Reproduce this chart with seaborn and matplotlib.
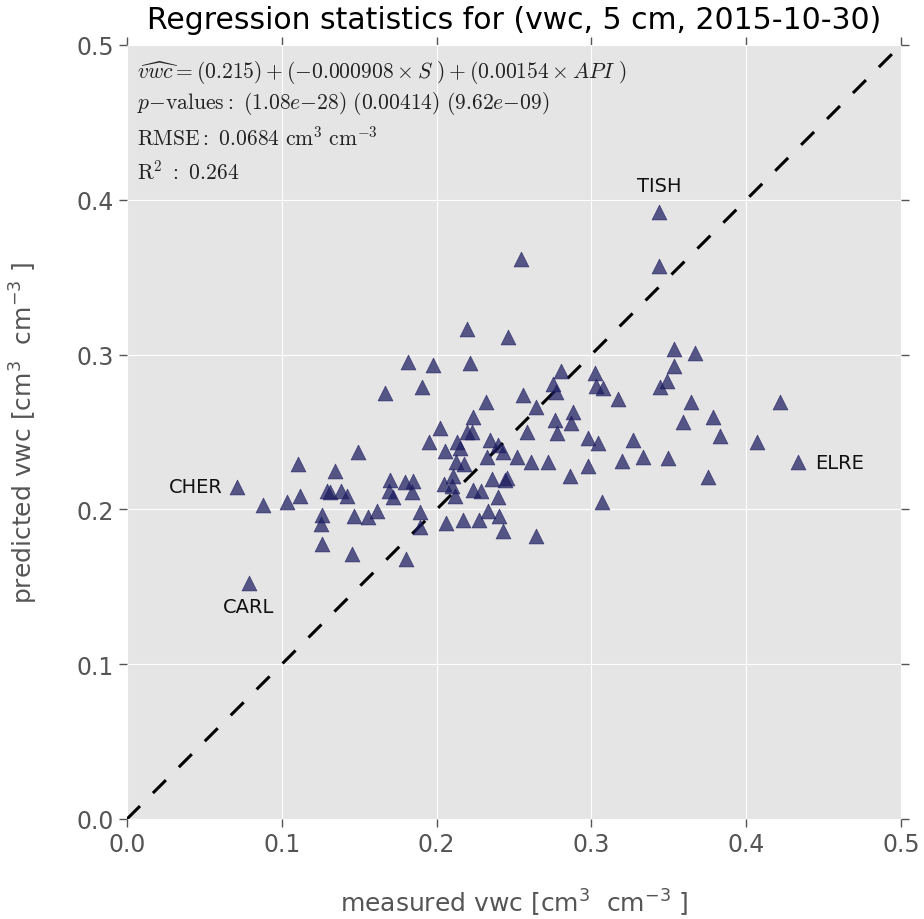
import numpy as np
import pandas as pd
import matplotlib
matplotlib.use("Agg")
import matplotlib.pyplot as plt
import seaborn as sns

# ---- data ----
measured = [0.3437, 0.3437, 0.2545, 0.2196, 0.2461, 0.1815, 0.1977, 0.2216, 0.1906, 0.1667,
            0.2319, 0.2804, 0.3023, 0.2752, 0.2771, 0.3030, 0.3075, 0.3172, 0.2558, 0.3534,
            0.3669, 0.3534, 0.3488, 0.3443, 0.3643, 0.4218, 0.3786, 0.3592, 0.3831, 0.4070,
            0.2642, 0.2881, 0.2765, 0.2868, 0.2584, 0.2778, 0.2978, 0.3043, 0.3269, 0.2235,
            0.2022, 0.1951, 0.2196, 0.2229, 0.2132, 0.2151, 0.2345, 0.2397, 0.2429, 0.2054,
            0.2326, 0.2125, 0.2177, 0.2519, 0.2610, 0.2720, 0.2978, 0.3198, 0.3333, 0.3495,
            0.4335, 0.2862, 0.3753, 0.2106, 0.2048, 0.2100, 0.2119, 0.2358, 0.2455, 0.2235,
            0.2287, 0.2397, 0.3068, 0.2332, 0.2061, 0.2171, 0.2274, 0.2403, 0.2429, 0.2642,
            0.1699, 0.1796, 0.1848, 0.1693, 0.1718, 0.1841, 0.1615, 0.1557, 0.1893, 0.1893,
            0.1802, 0.1492, 0.1105, 0.1344, 0.1292, 0.1311, 0.1382, 0.1421, 0.0711, 0.1118,
            0.0879, 0.1034, 0.1260, 0.1253, 0.1260, 0.1466, 0.1453, 0.0788, 0.2442]
predicted = [0.3921, 0.3572, 0.3618, 0.3165, 0.3114, 0.2952, 0.2933, 0.2946, 0.2791, 0.2752,
             0.2694, 0.2894, 0.2881, 0.2810, 0.2758, 0.2797, 0.2784, 0.2713, 0.2739, 0.3036,
             0.3010, 0.2926, 0.2829, 0.2791, 0.2694, 0.2694, 0.2597, 0.2565, 0.2474, 0.2435,
             0.2661, 0.2629, 0.2578, 0.2558, 0.2500, 0.2494, 0.2461, 0.2429, 0.2448, 0.2597,
             0.2526, 0.2435, 0.2500, 0.2500, 0.2435, 0.2397, 0.2448, 0.2416, 0.2371, 0.2377,
             0.2339, 0.2306, 0.2293, 0.2339, 0.2306, 0.2306, 0.2280, 0.2313, 0.2339, 0.2332,
             0.2306, 0.2216, 0.2209, 0.2216, 0.2164, 0.2151, 0.2087, 0.2196, 0.2203, 0.2125,
             0.2119, 0.2080, 0.2048, 0.1990, 0.1912, 0.1932, 0.1932, 0.1957, 0.1860, 0.1828,
             0.2190, 0.2177, 0.2183, 0.2119, 0.2080, 0.2112, 0.1990, 0.1951, 0.1983, 0.1886,
             0.1680, 0.2371, 0.2293, 0.2248, 0.2119, 0.2112, 0.2119, 0.2087, 0.2145, 0.2087,
             0.2028, 0.2048, 0.1964, 0.1906, 0.1776, 0.1957, 0.1712, 0.1525, 0.2190]

labelled_sites = ["TISH", "ELRE", "CHER", "CARL"]
labelled_idx = [0, 60, 98, 107]

ticks = [0.0, 0.1, 0.2, 0.3, 0.4, 0.5]
title = "Regression statistics for (vwc, 5 cm, 2015-10-30)"
stats_lines = [
    r"$\widehat{vwc} = (0.215) + (-0.000908 \times S\ ) + (0.00154 \times API\ )$",
    r"$p\mathrm{-values:}\ (1.08e{-28})\ (0.00414)\ (9.62e{-09})$",
    r"$\mathrm{RMSE:}\ 0.0684\ \mathrm{cm^3\ cm^{-3}}$",
    r"$\mathrm{R^2\ :}\ 0.264$",
]

df = pd.DataFrame({"measured": measured, "predicted": predicted})

# ---- style (ggplot-like) ----
sns.set_style("darkgrid", rc={
    "axes.facecolor": "#E5E5E5",
    "grid.color": "white",
    "grid.linewidth": 1.5,
    "axes.edgecolor": "white",
    "xtick.color": "#555555",
    "ytick.color": "#555555",
    "xtick.bottom": True, "xtick.top": True,
    "ytick.left": True, "ytick.right": True,
    "xtick.direction": "out", "ytick.direction": "out",
    "axes.labelcolor": "#555555",
})
plt.rcParams["font.family"] = ["DejaVu Sans"]

fig = plt.figure(figsize=(9.24, 9.20), dpi=100)
ax = fig.add_axes([127/924, 1 - 820/920, 774/924, 774/920])

sns.scatterplot(data=df, x="measured", y="predicted", marker="^", s=115,
                color="#1c1c60", alpha=0.72, edgecolor="#1c1c60", linewidth=0.5,
                ax=ax, zorder=3)

ax.plot([0, 0.5], [0, 0.5], color="black", lw=2.2, linestyle=(0, (6, 6)), zorder=2)

ax.set_xlim(0, 0.5)
ax.set_ylim(0, 0.5)
ax.set_xticks(ticks)
ax.set_yticks(ticks)
ax.tick_params(axis="both", which="both", labelsize=17, length=6, width=1,
               color="#555555", top=True, right=True, labeltop=False, labelright=False)
for s in ax.spines.values():
    s.set_visible(False)

ax.set_xlabel("measured vwc [cm$^3$  cm$^{-3}$ ]", fontsize=18, color="#555555", labelpad=22)
ax.set_ylabel("predicted vwc [cm$^3$  cm$^{-3}$ ]", fontsize=18, color="#555555", labelpad=26)
ax.set_title(title, fontsize=21.5, color="black", pad=12)

# site annotations
offsets = {"TISH": (0, 12, "center", "bottom"),
           "ELRE": (12, 0, "left", "center"),
           "CHER": (-10, 0, "right", "center"),
           "CARL": (0, -10, "center", "top")}
for name, i in zip(labelled_sites, labelled_idx):
    dx, dy, ha, va = offsets[name]
    ax.annotate(name, (measured[i], predicted[i]), xytext=(dx, dy),
                textcoords="offset points", ha=ha, va=va, fontsize=14, color="#111111")

# statistics text
ys = [0.965, 0.926, 0.882, 0.838]
for line, yy in zip(stats_lines, ys):
    ax.text(0.013, yy, line, transform=ax.transAxes, fontsize=15.5, va="center",
            ha="left", math_fontfamily="cm", color="#222222")

fig.savefig("out.png", dpi=100)
